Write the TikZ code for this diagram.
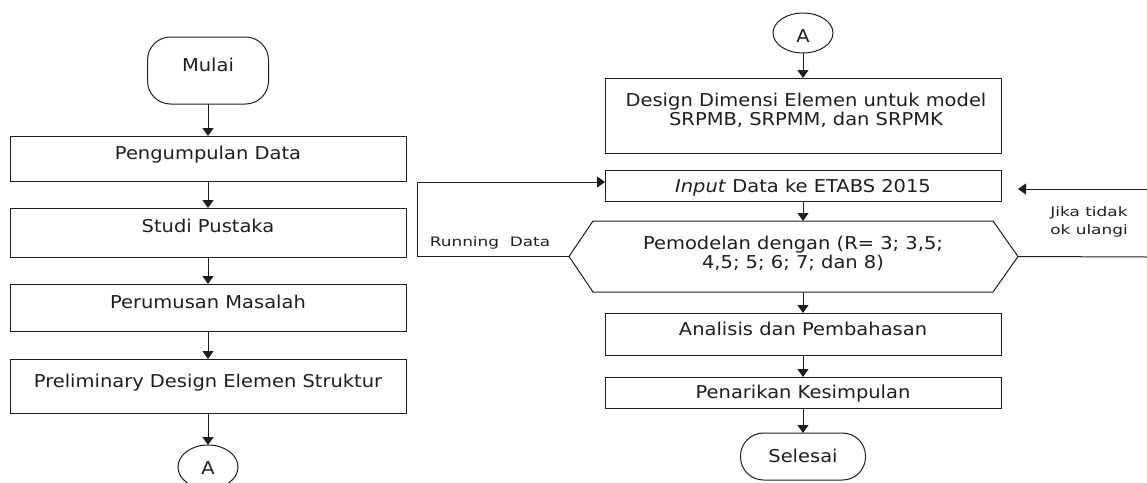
\documentclass[tikz,border=0pt]{standalone}
\usepackage{fontspec}
\setmainfont[FakeStretch=1.1]{DejaVu Sans}
\newfontfamily\notefont[FakeStretch=1.3]{DejaVu Sans}
\usetikzlibrary{arrows.meta,shapes.geometric,calc}
\definecolor{ink}{RGB}{30,30,30}

\begin{document}
\begin{tikzpicture}[x=1pt,y=-1pt,
  every node/.style={inner sep=0pt, outer sep=0pt},
  box/.style={draw=ink, line width=1pt, minimum width=396pt},
  term/.style={draw=ink, line width=1pt, rounded corners=23pt},
  conn/.style={draw=ink, line width=1pt, ellipse, minimum width=60pt},
  lab/.style={text=ink, font=\fontsize{17.7}{21}\selectfont, anchor=base},
  note/.style={text=ink, font=\notefont\fontsize{13}{16}\selectfont, anchor=base},
  arr/.style={draw=ink, line width=1pt, -{Triangle[length=8pt,width=11pt]}},
  wire/.style={draw=ink, line width=1pt}]
\useasboundingbox (0,0) rectangle (1147,482);

% ---------- left column ----------
\node[term, minimum width=121pt, minimum height=67pt] (start) at (208,70.5) {};
\node[lab] (startT) at (208,71) {Mulai};

\node[box, minimum height=45pt] (b1) at (208,158.5) {};
\node[lab] (b1T) at (208,159.3) {Pengumpulan Data};

\node[box, minimum height=49pt] (b2) at (208,232.5) {};
\node[lab] (b2T) at (208,232) {Studi Pustaka};

\node[box, minimum height=47pt] (b3) at (208,307.5) {};
\node[lab] (b3T) at (208,308) {Perumusan Masalah};

\node[box, minimum height=54pt] (b4) at (208,386) {};
\node[lab] (b4T) at (208,387) {Preliminary Design Elemen Struktur};

\node[conn, minimum height=44pt] (aL) at (208,467) {};
\node[lab] (aLT) at (208,474) {A};

\draw[arr] (start.south) -- (b1.north);
\draw[arr] (b1.south) -- (b2.north);
\draw[arr] (b2.south) -- (b3.north);
\draw[arr] (b3.south) -- (b4.north);
\draw[arr] (b4.south) -- (aL.north);

% ---------- right column ----------
\node[conn, minimum height=40pt] (aR) at (803,33) {};
\node[lab] (aRT) at (803,42) {A};

\node[box, minimum height=75pt] (d1) at (803,115.5) {};
\node[lab] (d1T1) at (806,106) {Design Dimensi Elemen untuk model};
\node[lab] (d1T2) at (806,125.5) {SRPMB, SRPMM, dan SRPMK};

\node[box, minimum height=31pt] (inp) at (803,185.5) {};
\node[lab] (inpT) at (803,192.7) {\textit{Input} Data ke ETABS 2015};

% hexagonal process block
\node[minimum width=449pt, minimum height=71pt] (hx) at (793.5,256.5) {};
\draw[wire] (hx.west) -- ($(hx.north west)+(24,0)$) -- ($(hx.north east)+(-25,0)$)
  -- (hx.east) -- ($(hx.south east)+(-25,0)$) -- ($(hx.south west)+(24,0)$) -- cycle;
\node[lab] (hxT1) at (793,249) {Pemodelan dengan (R= 3; 3,5;};
\node[lab] (hxT2) at (793,268.5) {4,5; 5; 6; 7; dan 8)};

\node[box, minimum height=42pt] (an) at (803,334) {};
\node[lab] (anT) at (803,335) {Analisis dan Pembahasan};

\node[box, minimum height=31pt] (pk) at (803,392.5) {};
\node[lab] (pkT) at (803,398) {Penarikan Kesimpulan};

\node[term, minimum width=125pt, minimum height=47pt] (sel) at (803,456.5) {};
\node[lab] (selT) at (803,462) {Selesai};

\draw[arr] (aR.south) -- (d1.north);
\draw[arr] (inp.south) -- (inp.south |- hx.north);
\draw[arr] (an.north |- hx.south) -- (an.north);
\draw[arr] (an.south) -- (pk.north);
\draw[arr] (pk.south) -- (sel.north);

% loop back for another run
\draw[arr] (hx.west) -- ++(-152,0) |- ($(inp.west)+(0,-3.5)$);
\node[note] (runT) at (490,246) {Running~ Data};

% repeat branch on the right
\coordinate (outR) at (1147,257);
\coordinate (inR) at (1147,189);
\coordinate (tipR) at (1018,189);
\draw[wire] (hx.east) -- (outR);
\draw[arr] (inR) -- (tipR);
\node[note] (jT1) at (1089,216.7) {Jika tidak};
\node[note] (jT2) at (1089,234.3) {ok ulangi};
\end{tikzpicture}
\end{document}
